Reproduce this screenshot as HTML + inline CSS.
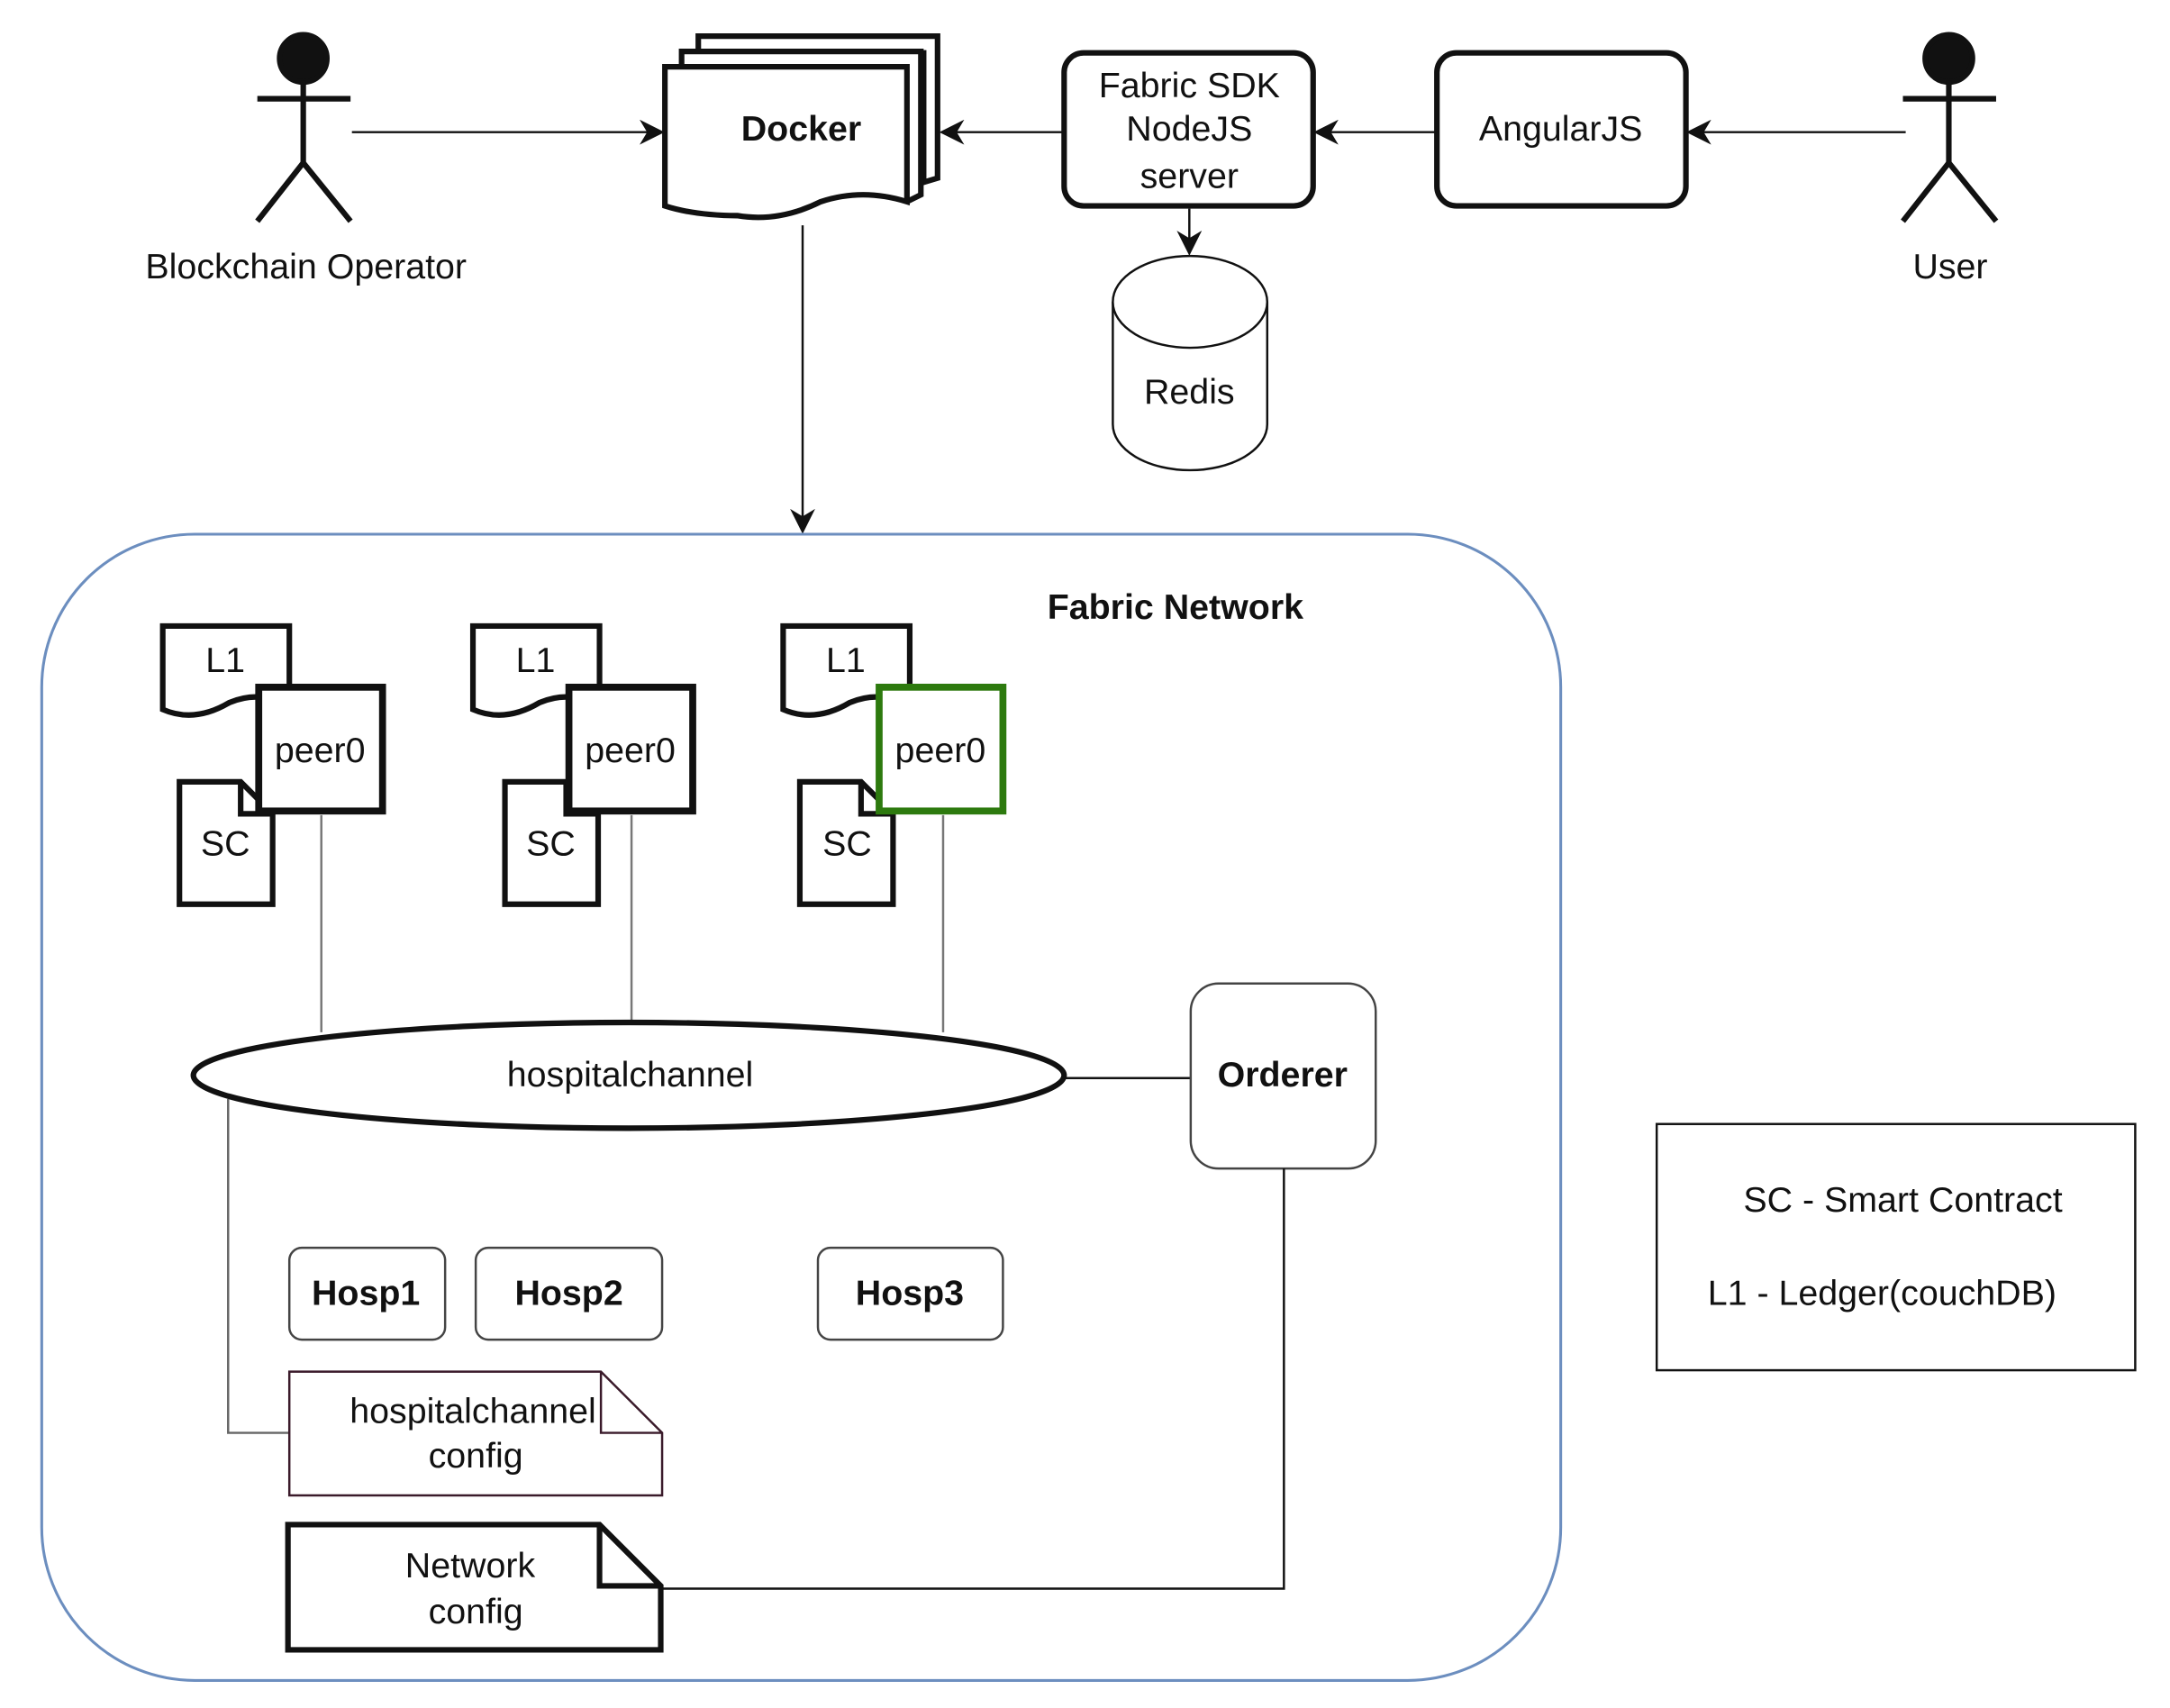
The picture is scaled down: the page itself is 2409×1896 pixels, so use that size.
<!DOCTYPE html>
<html><head><meta charset="utf-8"><style>html,body{margin:0;padding:0;background:#fff}svg{display:block}text{font-family:"Liberation Sans",sans-serif;fill:#111}</style></head>
<body>
<svg width="2409" height="1896" viewBox="0 0 1560 1227.8" xmlns="http://www.w3.org/2000/svg">
<defs>
<marker id="arb" viewBox="0 0 10 10" refX="9" refY="5" markerWidth="18" markerHeight="18" markerUnits="userSpaceOnUse" orient="auto"><path d="M0,0 L10,5 L0,10 L3,5 z" fill="#111"/></marker>
</defs>
<g fill="none" stroke="#111">
<g stroke-width="4"><circle cx="218" cy="42" r="17" fill="#111"/><line x1="218" y1="58" x2="218" y2="117"/><line x1="185" y1="71" x2="252" y2="71"/><line x1="218" y1="117" x2="185" y2="159"/><line x1="218" y1="117" x2="252" y2="159"/></g>
<g stroke-width="4"><circle cx="1401" cy="42" r="17" fill="#111"/><line x1="1401" y1="58" x2="1401" y2="117"/><line x1="1368" y1="71" x2="1435" y2="71"/><line x1="1401" y1="117" x2="1368" y2="159"/><line x1="1401" y1="117" x2="1435" y2="159"/></g>
<g stroke-width="1.6">
<line x1="253" y1="95" x2="476" y2="95" marker-end="url(#arb)"/>
<line x1="765" y1="95" x2="677" y2="95" marker-end="url(#arb)"/>
<line x1="1032" y1="95" x2="946" y2="95" marker-end="url(#arb)"/>
<line x1="1370" y1="95" x2="1214" y2="95" marker-end="url(#arb)"/>
<line x1="855" y1="150" x2="855" y2="182" marker-end="url(#arb)"/>
<line x1="577" y1="162" x2="577" y2="382" marker-end="url(#arb)"/>
</g>
<g stroke-width="4" fill="#fff">
<path d="M502,36 V26 H674 V128 L664,131 V36"/>
<path d="M490,48 V37 H662 V140 L652,145"/>
<path d="M478,48 H652 V145 Q620,135 590,145 Q560,160 530,155 Q500,155 478,148 Z"/>
</g>
<rect x="765" y="38" width="179" height="110" rx="14" stroke-width="4" fill="#fff"/>
<rect x="1033" y="38" width="179" height="110" rx="14" stroke-width="4" fill="#fff"/>
<path d="M800,217 V305 A55.5,33 0 0 0 911,305 V217" stroke-width="1.6" fill="#fff"/>
<ellipse cx="855.5" cy="217" rx="55.5" ry="33" stroke-width="1.6" fill="#fff"/>
<rect x="30" y="384" width="1092" height="824" rx="110" stroke="#6c8ebf" stroke-width="2"/>
<g stroke="#777" stroke-width="1.6">
<line x1="231" y1="586" x2="231" y2="742"/><line x1="454" y1="586" x2="454" y2="736"/><line x1="678" y1="586" x2="678" y2="742"/>
</g>
<g id="l1"><path d="M117,450 H208 V510 Q190,495 165,505 Q140,520 117,510 Z" stroke-width="4" fill="#fff"/></g>
<use href="#l1" x="223"/><use href="#l1" x="446"/>
<g id="sc">
<path d="M129,562 H173 L196,585 V650 H129 Z" stroke-width="4" fill="#fff"/>
<path d="M173,562 V585 H196" stroke-width="4"/>
</g>
<use href="#sc" x="234"/><use href="#sc" x="446"/>
<rect x="186" y="494" width="89" height="89" stroke-width="5" fill="#fff"/>
<rect x="409" y="494" width="89" height="89" stroke-width="5" fill="#fff"/>
<rect x="632" y="494" width="89" height="89" stroke-width="5" stroke="#2d7a0e" fill="#fff"/>
<line x1="766" y1="775" x2="856" y2="775" stroke-width="1.6"/>
<ellipse cx="452" cy="773" rx="313" ry="38" stroke-width="4" fill="#fff"/>
<rect x="856" y="707" width="133" height="133" rx="20" stroke="#444" stroke-width="1.6" fill="#fff"/>
<polyline points="164,790 164,1030 208,1030" stroke="#666" stroke-width="1.6"/>
<polyline points="923,840 923,1142 476,1142" stroke-width="1.6"/>
<g stroke="#444" stroke-width="1.6" fill="#fff">
<rect x="208" y="897" width="112" height="66" rx="9"/>
<rect x="342" y="897" width="134" height="66" rx="9"/>
<rect x="588" y="897" width="133" height="66" rx="9"/>
</g>
<path d="M208,986 H432 L476,1030 V1075 H208 Z" stroke="#3a1a2a" stroke-width="1.6" fill="#fff"/>
<path d="M432,986 V1030 H476" stroke="#3a1a2a" stroke-width="1.6"/>
<path d="M207,1096 H431 L475,1140 V1186 H207 Z" stroke-width="4" fill="#fff"/>
<path d="M431,1096 V1140 H475" stroke-width="4"/>
<rect x="1191" y="808" width="344" height="177" stroke-width="1.6"/>
</g>
<g font-size="25.5" text-anchor="middle">
<text x="220" y="200">Blockchain Operator</text>
<text x="1402" y="200">User</text>
<text x="576" y="101" font-weight="bold">Docker</text>
<text x="855" y="70">Fabric SDK</text>
<text x="855" y="101">NodeJS</text>
<text x="855" y="135">server</text>
<text x="1122" y="101">AngularJS</text>
<text x="855" y="290">Redis</text>
<text x="845" y="445" font-weight="bold">Fabric Network</text>
<text x="162" y="483">L1</text><text x="385" y="483">L1</text><text x="608" y="483">L1</text>
<text x="230" y="548">peer0</text><text x="453" y="548">peer0</text><text x="676" y="548">peer0</text>
<text x="162" y="615">SC</text><text x="396" y="615">SC</text><text x="609" y="615">SC</text>
<text x="453" y="781">hospitalchannel</text>
<text x="922" y="781" font-weight="bold">Orderer</text>
<text x="263" y="938" font-weight="bold">Hosp1</text>
<text x="409" y="938" font-weight="bold">Hosp2</text>
<text x="654" y="938" font-weight="bold">Hosp3</text>
<text x="340" y="1023">hospitalchannel</text>
<text x="342" y="1055">config</text>
<text x="338" y="1134">Network</text>
<text x="342" y="1167">config</text>
<text x="1368" y="871">SC - Smart Contract</text>
<text x="1353" y="938">L1 - Ledger(couchDB)</text>
</g>
</svg>
</body></html>
